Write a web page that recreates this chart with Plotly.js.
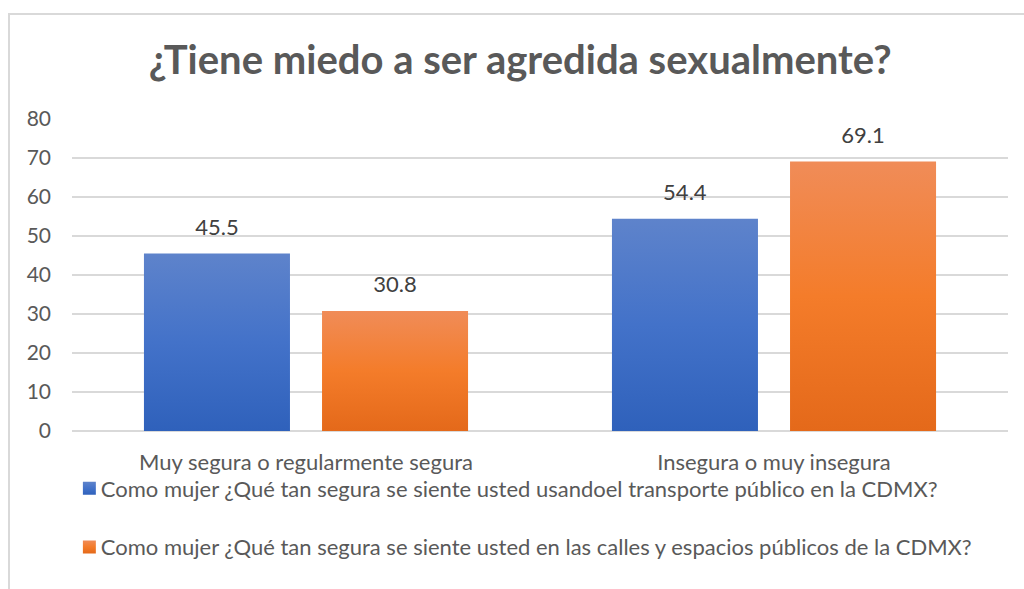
<!DOCTYPE html>
<html>
<head>
<meta charset="utf-8">
<script src="https://cdn.plot.ly/plotly-3.0.1.min.js"></script>
<style>
html,body{margin:0;padding:0;background:#fff;overflow:hidden;}
#frame{position:absolute;left:8px;top:13px;width:1100px;height:700px;border:2px solid #d9d9d9;pointer-events:none;z-index:5;}
#chart{position:absolute;left:0;top:0;width:1024px;height:589px;}
</style>
</head>
<body>
<div id="chart"></div>
<div id="frame"></div>
<script>
const categories = ["Muy segura o regularmente segura", "Insegura o muy insegura"];
const seriesNames = [
  "Como mujer ¿Qué tan segura se siente usted usandoel transporte público en la CDMX?",
  "Como mujer ¿Qué tan segura se siente usted en las calles y espacios públicos de la CDMX?"
];
const transporte = [45.5, 54.4];
const calles = [30.8, 69.1];
const yTicks = [0, 10, 20, 30, 40, 50, 60, 70, 80];
const titleText = "¿Tiene miedo a ser agredida sexualmente?";

const FONT = "Lato, 'Open Sans', sans-serif";

const traces = [
  {type:"bar", x:categories, y:transporte, name:seriesNames[0], legendgroup:"a",
   marker:{color:"#4472c4"}, text:transporte.map(v=>v.toFixed(1)), textposition:"outside",
   textfont:{size:22,color:"#404040",family:FONT}, cliponaxis:false},
  {type:"bar", x:categories, y:calles, name:seriesNames[1], legendgroup:"b",
   marker:{color:"#f47c2c"}, text:calles.map(v=>v.toFixed(1)), textposition:"outside",
   textfont:{size:22,color:"#404040",family:FONT}, cliponaxis:false}
];

const layout = {
  width:1024, height:589,
  margin:{l:72, r:16, t:119, b:158},
  paper_bgcolor:"rgba(0,0,0,0)", plot_bgcolor:"#fff",
  font:{family:FONT, color:"#595959", size:22},
  title:{text:"<b>"+titleText+"</b>", font:{size:40, color:"#595959", family:FONT},
         x:0.508, xanchor:"center", y:0.898, yanchor:"middle"},
  barmode:"group", bargap:0.239, bargroupgap:0.18,
  xaxis:{showgrid:false, showline:false, zeroline:false, ticks:"", ticklabelstandoff:16,
         tickfont:{size:22,color:"#595959"}},
  yaxis:{range:[0,80], tickvals:yTicks, showgrid:true, gridcolor:"#d9d9d9", gridwidth:2,
         zeroline:true, zerolinecolor:"#d9d9d9", zerolinewidth:2, showline:false, ticks:"",
         ticklabelstandoff:20, tickfont:{size:21,color:"#595959"}},
  showlegend:true,
  legend:{orientation:"v", x:-0.012, xanchor:"left", y:-0.117, yanchor:"top",
          tracegroupgap:27, font:{size:22,color:"#595959"}, itemwidth:30, bgcolor:"rgba(0,0,0,0)"}
};

Plotly.newPlot("chart", traces, layout, {staticPlot:true, displayModeBar:false}).then(gd => {
  const svg = gd.querySelector("svg.main-svg");
  const ns = "http://www.w3.org/2000/svg";
  let defs = svg.querySelector("defs");
  if(!defs){defs=document.createElementNS(ns,"defs");svg.insertBefore(defs,svg.firstChild);}
  function grad(id, stops){
    const g=document.createElementNS(ns,"linearGradient");
    g.setAttribute("id",id);g.setAttribute("x1","0");g.setAttribute("y1","0");g.setAttribute("x2","0");g.setAttribute("y2","1");
    stops.forEach(([o,c])=>{const s=document.createElementNS(ns,"stop");s.setAttribute("offset",o);s.setAttribute("stop-color",c);g.appendChild(s);});
    defs.appendChild(g);
  }
  grad("gBlue",[["0","#5e83cb"],["0.5","#4372c9"],["1","#2f61bb"]]);
  grad("gOrange",[["0","#f08c58"],["0.5","#f47c2a"],["1","#e4691a"]]);
  const ids=["gBlue","gOrange"];
  gd.querySelectorAll(".barlayer .trace").forEach((t,i)=>{
    t.querySelectorAll(".point path").forEach(p=>{p.style.fill="url(#"+ids[i]+")";});
    t.querySelectorAll("text.bartext").forEach(tx=>{
      tx.setAttribute("transform","translate(0,-11) "+(tx.getAttribute("transform")||""));
    });
  });
  gd.querySelectorAll(".legend .traces").forEach((t,i)=>{
    t.querySelectorAll(".legendpoints").forEach(lp=>{
      lp.setAttribute("transform","translate(7,0) scale(1.08) "+(lp.getAttribute("transform")||""));
    });
    t.querySelectorAll(".legendpoints path").forEach(p=>{p.style.fill="url(#"+ids[i]+")";});
  });
});
</script>
</body>
</html>
